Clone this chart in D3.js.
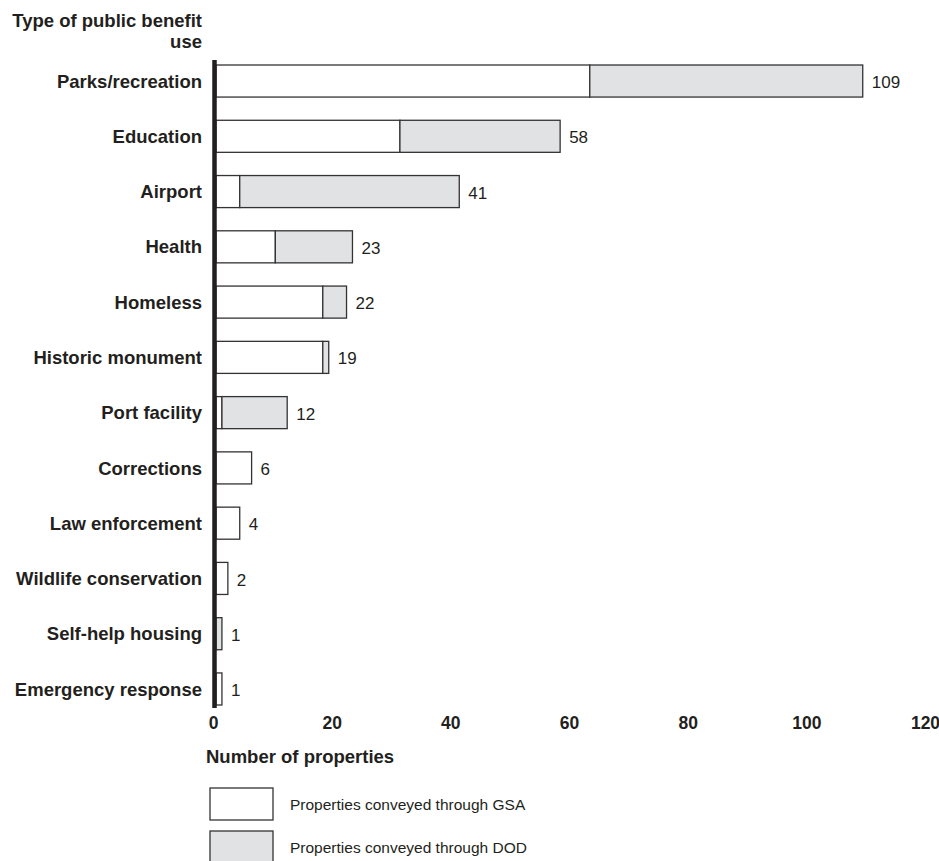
<!DOCTYPE html>
<html>
<head>
<meta charset="utf-8">
<script src="https://cdn.jsdelivr.net/npm/d3@7"></script>
<style>
  html, body { margin: 0; padding: 0; background: #fff; }
  svg { display: block; font-family: "Liberation Sans", Arial, Helvetica, sans-serif; }
</style>
</head>
<body>
<svg id="chart" width="939" height="861"></svg>
<script>
const categories = ["Parks/recreation", "Education", "Airport", "Health", "Homeless",
  "Historic monument", "Port facility", "Corrections", "Law enforcement",
  "Wildlife conservation", "Self-help housing", "Emergency response"];
const gsaValues = [63, 31, 4, 10, 18, 18, 1, 6, 4, 2, 0, 1];
const dodValues = [46, 27, 37, 13, 4, 1, 11, 0, 0, 0, 1, 0];
const totals = [109, 58, 41, 23, 22, 19, 12, 6, 4, 2, 1, 1];
const tickValues = [0, 20, 40, 60, 80, 100, 120];
const seriesNames = ["Properties conveyed through GSA", "Properties conveyed through DOD"];
const seriesColors = ["#ffffff", "#e1e2e4"];

const svg = d3.select("#chart");
const ink = "#231f20";

const x = d3.scaleLinear().domain([0, 120]).range([216, 928]);
const y = d3.scaleBand().domain(categories).range([53.4, 716.6])
  .paddingInner(0.42).paddingOuter(0.21);

const rows = categories.map((c, i) => ({ cat: c, gsa: gsaValues[i], dod: dodValues[i], total: totals[i] }));
const stacked = d3.stack().keys(["gsa", "dod"])(rows);

const layers = svg.selectAll("g.layer").data(stacked).enter().append("g")
  .attr("class", "layer")
  .attr("fill", (d, i) => seriesColors[i]);

layers.selectAll("rect").data(d => d.filter(p => p[1] - p[0] > 0)).enter().append("rect")
  .attr("x", d => x(d[0]))
  .attr("width", d => x(d[1]) - x(d[0]))
  .attr("y", d => y(d.data.cat))
  .attr("height", y.bandwidth())
  .attr("stroke", "#333")
  .attr("stroke-width", 1.3);

// value labels
svg.append("g").selectAll("text").data(rows).enter().append("text")
  .attr("x", d => x(d.total) + 9)
  .attr("y", d => y(d.cat) + y.bandwidth() / 2 + 1)
  .attr("dy", "0.36em")
  .attr("font-size", 17)
  .attr("fill", ink)
  .text(d => d.total);

// category labels
svg.append("g").selectAll("text").data(categories).enter().append("text")
  .attr("x", 202)
  .attr("y", d => y(d) + y.bandwidth() / 2)
  .attr("dy", "0.36em")
  .attr("text-anchor", "end")
  .attr("font-size", 18.5)
  .attr("font-weight", "bold")
  .attr("fill", ink)
  .text(d => d);

// title
const title = svg.append("text")
  .attr("text-anchor", "end")
  .attr("font-size", 18.5)
  .attr("font-weight", "bold")
  .attr("fill", ink);
title.append("tspan").attr("x", 202).attr("y", 27).text("Type of public benefit");
title.append("tspan").attr("x", 202).attr("y", 48).text("use");

// vertical axis line
svg.append("line")
  .attr("x1", x(0) - 1.5).attr("x2", x(0) - 1.5)
  .attr("y1", 60).attr("y2", 708)
  .attr("stroke", ink)
  .attr("stroke-width", 4.5);

// x axis
const xAxis = svg.append("g")
  .attr("transform", "translate(-3,708)")
  .call(d3.axisBottom(x).tickValues(tickValues).tickSize(0).tickPadding(9));
xAxis.select(".domain").remove();
xAxis.selectAll("text")
  .attr("font-size", 17.5)
  .attr("font-weight", "bold")
  .attr("fill", ink)
  .attr("font-family", "Liberation Sans, Arial, sans-serif");

svg.append("text")
  .attr("x", 206).attr("y", 763)
  .attr("font-size", 18.5)
  .attr("font-weight", "bold")
  .attr("fill", ink)
  .text("Number of properties");

// legend
const legend = svg.append("g").selectAll("g").data(seriesNames).enter().append("g")
  .attr("transform", (d, i) => `translate(210,${788 + i * 43})`);
legend.append("rect")
  .attr("width", 63).attr("height", 32)
  .attr("fill", (d, i) => seriesColors[i])
  .attr("stroke", "#333").attr("stroke-width", 1.3);
legend.append("text")
  .attr("x", 80).attr("y", 16).attr("dy", "0.36em")
  .attr("font-size", 15.5)
  .attr("fill", ink)
  .text(d => d);
</script>
</body>
</html>
